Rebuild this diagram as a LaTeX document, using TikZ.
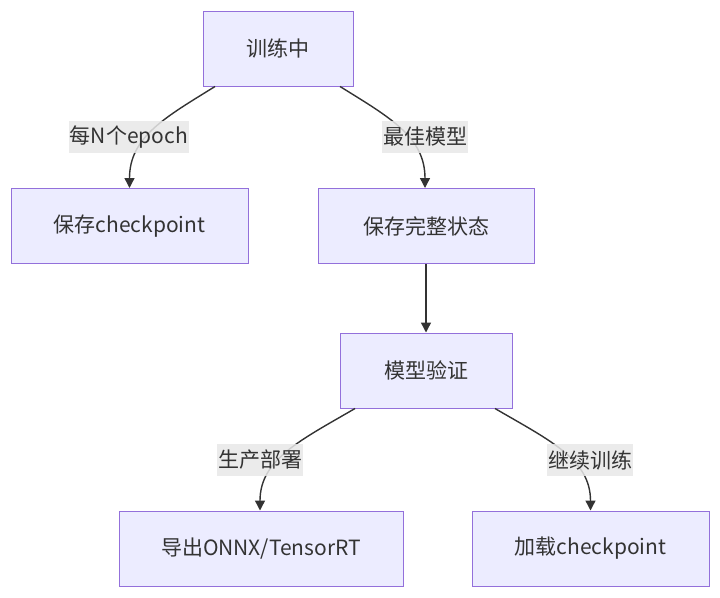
\documentclass[tikz,border=0pt]{standalone}
\usepackage{fontspec}
\setmainfont{Noto Sans CJK SC}
\usetikzlibrary{arrows.meta}
\definecolor{nodefill}{HTML}{ECECFF}
\definecolor{nodeline}{HTML}{9370DB}
\definecolor{ink}{HTML}{333333}
\definecolor{lblbg}{HTML}{E8E8E8}
\tikzset{
  box/.style={draw=nodeline, fill=nodefill, line width=1pt, text=ink,
    font=\fontsize{21}{25}\selectfont, inner sep=0pt, minimum height=75pt},
  lbl/.style={fill=lblbg, fill opacity=0.85, text opacity=1, text=ink,
    font=\fontsize{21}{25}\selectfont, inner xsep=1pt, inner ysep=0pt, minimum height=32pt},
  edge/.style={draw=ink, line width=1.4pt, -{Triangle[length=10pt,width=10pt]}}
}
\begin{document}
\begin{tikzpicture}[x=1pt,y=-1pt]
\useasboundingbox (0,0) rectangle (720,597);
\node[box, minimum width=150pt] (train) at (278,48.5) {训练中};
\node[box, minimum width=237pt] (ckpt) at (129.5,226) {保存checkpoint};
\node[box, minimum width=216pt] (full) at (426,226) {保存完整状态};
\node[box, minimum width=172pt] (valid) at (426,370.5) {模型验证};
\node[box, minimum width=284pt] (onnx) at (261,548.5) {导出ONNX/TensorRT};
\node[box, minimum width=237pt] (load) at (590.5,548.5) {加载checkpoint};

\draw[edge] ([xshift=-63pt]train.south) .. controls +(-50,31) and +(0,-51) .. (ckpt.north);
\draw[edge] ([xshift=62pt]train.south) .. controls +(50,31) and +(0,-51) .. ([xshift=-1pt]full.north);
\draw[edge] (full.south) -- (valid.north);
\draw[edge] ([xshift=-71pt]valid.south) .. controls +(-55,32) and +(0,-51) .. ([xshift=-1pt]onnx.north);
\draw[edge] ([xshift=69pt]valid.south) .. controls +(55,32) and +(0,-51) .. (load.north);

\node[lbl] (l1) at (129,137) {每N个epoch};
\node[lbl] (l2) at (425,137) {最佳模型};
\node[lbl] (l3) at (260,460) {生产部署};
\node[lbl] (l4) at (590,460) {继续训练};
\end{tikzpicture}
\end{document}
